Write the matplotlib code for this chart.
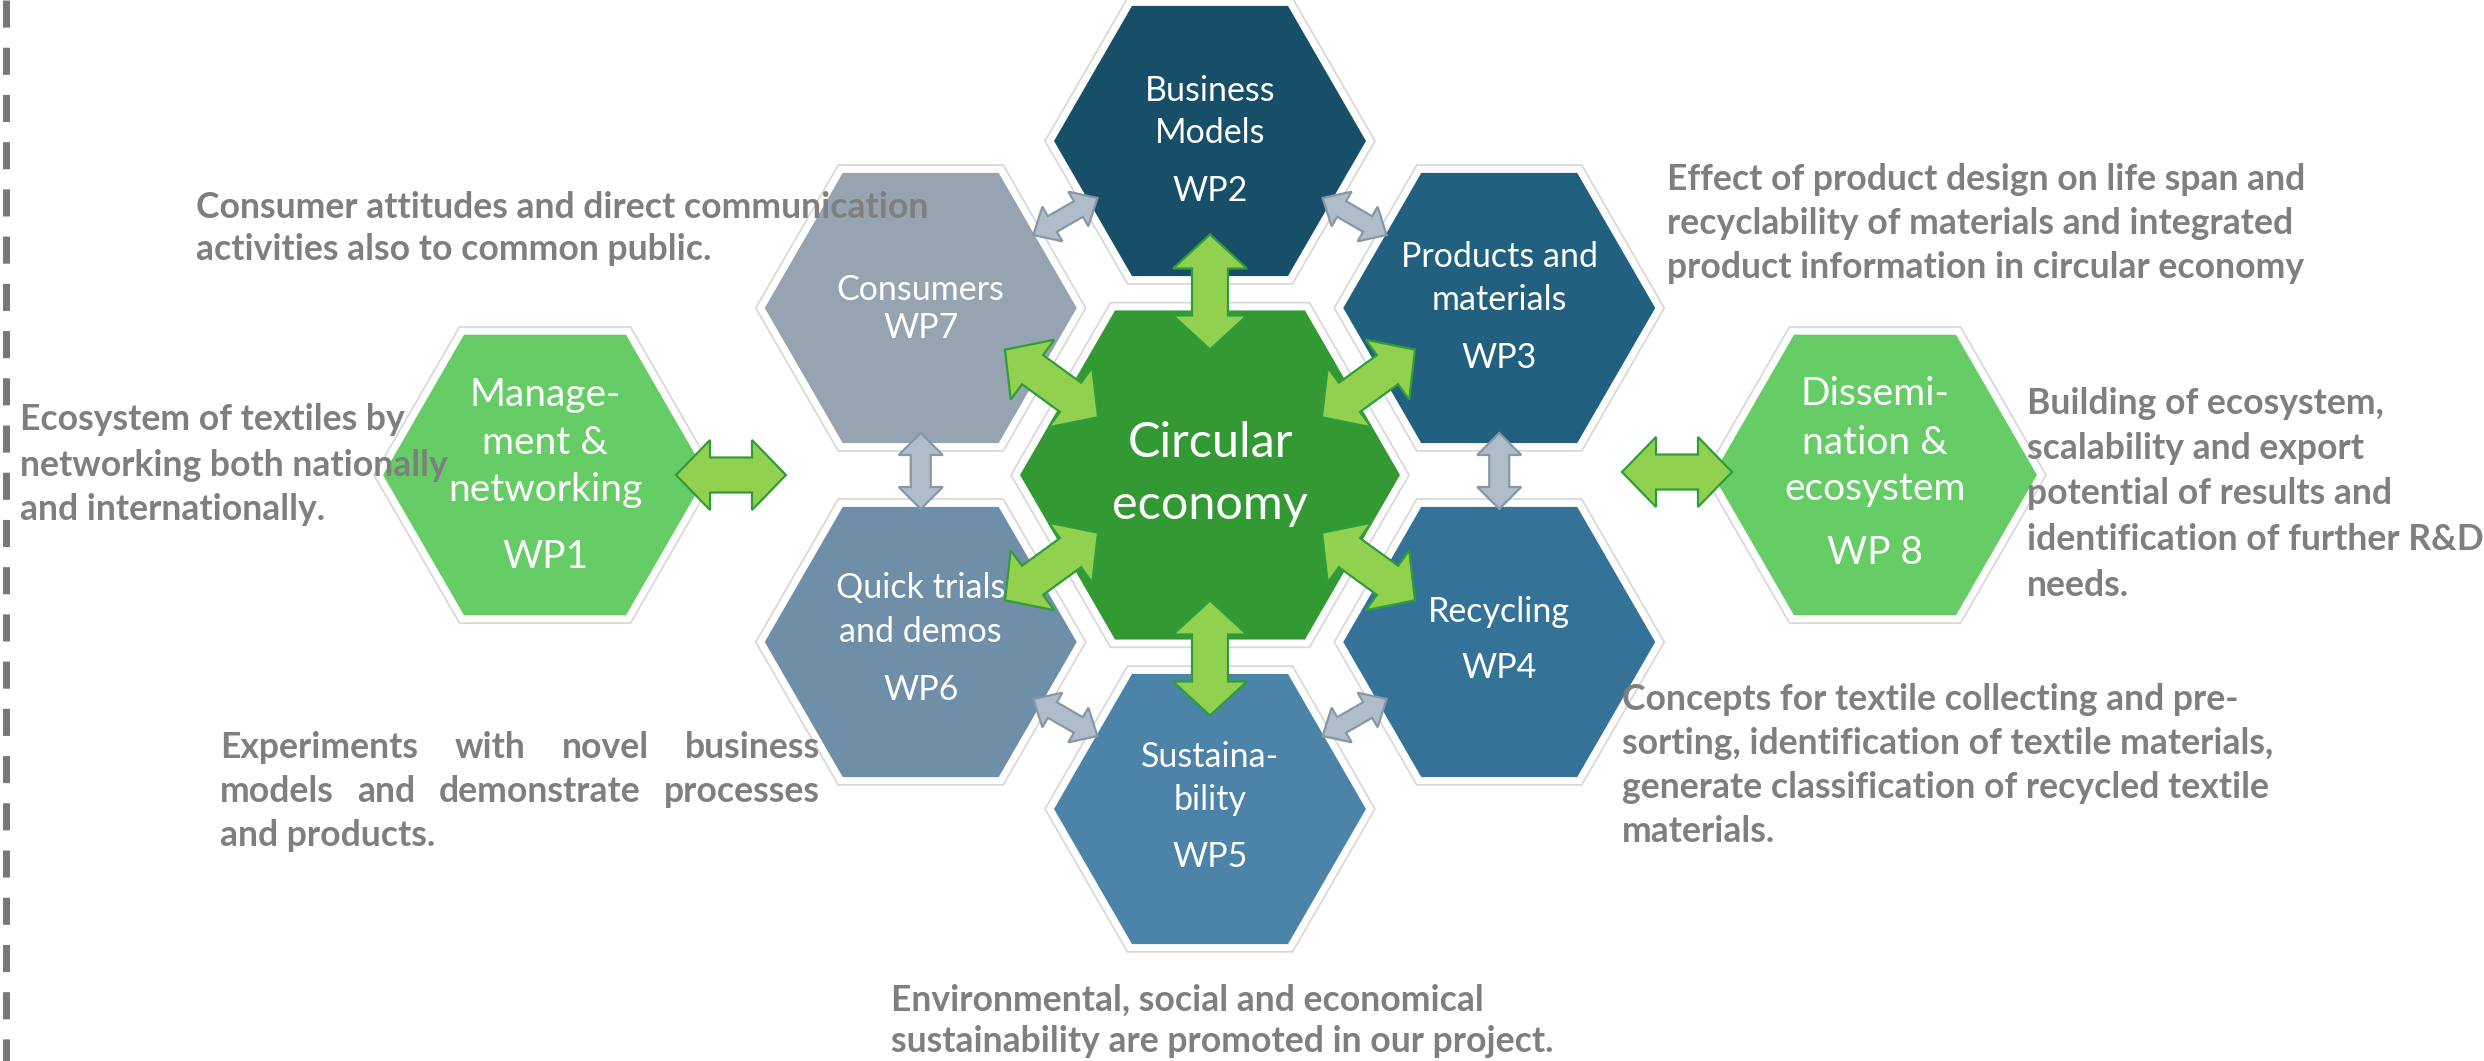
import matplotlib.pyplot as plt
from matplotlib.patches import Polygon
import numpy as np

# canvas in pixels
W, H = 2484, 1061

# work packages: outer-left, ring (top, then clockwise), outer-right
wp_ids = ["WP1", "WP2", "WP3", "WP4", "WP5", "WP6", "WP7", "WP 8"]
wp_titles = [
    ["Manage-", "ment &", "networking"],
    ["Business", "Models"],
    ["Products and", "materials"],
    ["Recycling"],
    ["Sustaina-", "bility"],
    ["Quick trials", "and demos"],
    ["Consumers"],
    ["Dissemi-", "nation &", "ecosystem"],
]
wp_colors = ["#66cc66", "#174f69", "#22607f", "#347397",
             "#4c83a8", "#6f8fa8", "#95a4b0", "#66cc66"]
centre_label = ["Circular", "economy"]
centre_color = "#339933"

# grey text next to each work package
desc_wp7 = ["Consumer attitudes and direct communication",
            "activities also to common public."]
desc_wp3 = ["Effect of product design on life span and",
            "recyclability of materials and integrated",
            "product information in circular economy"]
desc_wp1 = ["Ecosystem of textiles by",
            "networking both nationally",
            "and internationally."]
desc_wp8 = ["Building of ecosystem,",
            "scalability and export",
            "potential of results and",
            "identification of further R&D",
            "needs."]
desc_wp6 = ["Experiments with novel business",
            "models and demonstrate processes",
            "and products."]
desc_wp4 = ["Concepts for textile collecting and pre-",
            "sorting, identification of textile materials,",
            "generate classification of recycled textile",
            "materials."]
desc_wp5 = ["Environmental, social and economical",
            "sustainability are promoted in our project."]

# ---- layout ----
cx, cy = 1210, 475
ring_d = 334
ring_angles = [90, 30, -30, -90, 210, 150]   # WP2..WP7
outer_dx = 665
R_centre, R_ring, R_outer = 190, 156, 162

centres = [(cx - outer_dx, cy)]
for a in ring_angles:
    centres.append((cx + ring_d * np.cos(np.radians(a)),
                    cy - ring_d * np.sin(np.radians(a))))
centres.append((cx + outer_dx, cy))
radii = [R_outer] + [R_ring] * 6 + [R_outer]

# vertical offsets of the title lines and of the WP id
title_dy = [[-80, -32, 15], [-50, -8], [-51, -8], [-30], [-52, -9],
            [-54, -10], [-18], [-81, -32, 14]]
id_dy = [82, 50, 50, 26, 48, 48, 20, 78]
title_size = [28, 24.5, 24.5, 24.5, 24.5, 24.5, 24.5, 28]

fig = plt.figure(figsize=(W / 100, H / 100), dpi=100)
ax = fig.add_axes([0, 0, 1, 1])
ax.set_xlim(0, W)
ax.set_ylim(H, 0)
ax.axis("off")
r = fig.canvas.get_renderer()


def hexagon(x, y, R, **kw):
    ang = np.radians(np.arange(0, 360, 60))
    pts = np.column_stack([x + R * np.cos(ang), y + R * np.sin(ang)])
    ax.add_patch(Polygon(pts, closed=True, **kw))


def double_arrow(x, y, ang, L, hw, hl, sw, fc, ec, z=4):
    u = np.array([L/2, L/2-hl, L/2-hl, -L/2+hl, -L/2+hl, -L/2,
                  -L/2+hl, -L/2+hl, L/2-hl, L/2-hl])
    v = np.array([0, hw/2, sw/2, sw/2, hw/2, 0, -hw/2, -sw/2, -sw/2, -hw/2])
    a = np.radians(ang)
    px = x + u * np.cos(a) - v * np.sin(a)
    py = y - (u * np.sin(a) + v * np.cos(a))
    ax.add_patch(Polygon(np.column_stack([px, py]), closed=True,
                         facecolor=fc, edgecolor=ec, lw=1.6, zorder=z))


hex_font = ["Lato", "DejaVu Sans"]

# faint outline behind every hexagon
for (x, y), R in zip(centres + [(cx, cy)], radii + [R_centre]):
    hexagon(x, y, R + 9, facecolor="white", edgecolor="#d6d6d6", lw=1.2, zorder=1)

hexagon(cx, cy, R_centre, facecolor=centre_color, edgecolor="none", zorder=2)
ax.text(cx, cy - 32, centre_label[0], color="white", fontsize=35,
        family=hex_font, ha="center", va="center", zorder=6)
ax.text(cx, cy + 30, centre_label[1], color="white", fontsize=35,
        family=hex_font, ha="center", va="center", zorder=6)

for i, ((x, y), R) in enumerate(zip(centres, radii)):
    hexagon(x, y, R, facecolor=wp_colors[i], edgecolor="none", zorder=2)
    for line, dy in zip(wp_titles[i], title_dy[i]):
        ax.text(x, y + dy, line, color="white", fontsize=title_size[i],
                family=hex_font, ha="center", va="center", zorder=6)
    ax.text(x, y + id_dy[i], wp_ids[i], color="white", fontsize=title_size[i],
            family=hex_font, ha="center", va="center", zorder=6)

# green arrows: centre <-> ring, and outer packages
g_fc, g_ec = "#92d050", "#2f9e3a"
for (x, y), a in zip(centres[1:7], ring_angles):
    mx = (x + cx) / 2 + 16 * np.cos(np.radians(a))
    my = (y + cy) / 2 - 16 * np.sin(np.radians(a))
    if a in (90, -90):
        tilt = a
    else:
        tilt = a + np.sign(np.cos(np.radians(a))) * np.sign(np.sin(np.radians(a))) * 6
    double_arrow(mx, my, tilt, 115, 74, 34, 36, g_fc, g_ec)
double_arrow(centres[0][0] + 186, cy, 0, 110, 70, 34, 35, g_fc, g_ec)
double_arrow(centres[7][0] - 198, cy - 3, 0, 110, 70, 34, 35, g_fc, g_ec)

# grey arrows between neighbouring ring packages
s_fc, s_ec = "#aebdc9", "#8797a5"
ring = centres[1:7]
for k in range(6):
    (x1, y1), (x2, y2) = ring[k], ring[(k + 1) % 6]
    ang = np.degrees(np.arctan2(-(y2 - y1), x2 - x1))
    if abs(abs(ang) - 90) < 1:
        double_arrow((x1 + x2) / 2, (y1 + y2) / 2 - 4, ang, 76, 44, 22, 20, s_fc, s_ec)
    else:
        double_arrow((x1 + x2) / 2, (y1 + y2) / 2 - 8, ang, 74, 40, 22, 18, s_fc, s_ec)

# descriptions
desc_font = ["Lato", "DejaVu Sans"]
probe = ax.text(0, 0, desc_wp3[0], fontsize=20, family=desc_font, weight="bold")
desc_size = 20 * 638 / probe.get_window_extent(renderer=r).width
probe.remove()
dkw = dict(color="#7f7f7f", fontsize=desc_size, family=desc_font,
           weight="bold", va="center", ha="left", zorder=8)


def block(x, y, lines, step):
    for j, line in enumerate(lines):
        ax.text(x, y + j * step, line, **dkw)


def justified(x0, x1, y, line):
    words = line.split()
    ts = [ax.text(0, y, w, **dkw) for w in words]
    ws = [t.get_window_extent(renderer=r).width for t in ts]
    gap = (x1 - x0 - sum(ws)) / (len(words) - 1)
    xx = x0
    for t, w in zip(ts, ws):
        t.set_x(xx)
        xx += w + gap


block(196, 207, desc_wp7, 42)
block(1667, 180, desc_wp3, 43.5)
block(20, 420, desc_wp1, 45)
block(2027, 403, desc_wp8, 45.5)
justified(220, 820, 747, desc_wp6[0])
justified(220, 820, 791, desc_wp6[1])
ax.text(220, 835, desc_wp6[2], **dkw)
block(1622, 700, desc_wp4, 44)
block(891, 1000, desc_wp5, 42)

# dashed divider on the left edge
ax.plot([6, 6], [0, H], color="#777777", lw=5, dashes=(3.9, 2.9),
        solid_capstyle="butt", dash_capstyle="butt", zorder=3)

fig.savefig("out.png", dpi=100, facecolor="white")
